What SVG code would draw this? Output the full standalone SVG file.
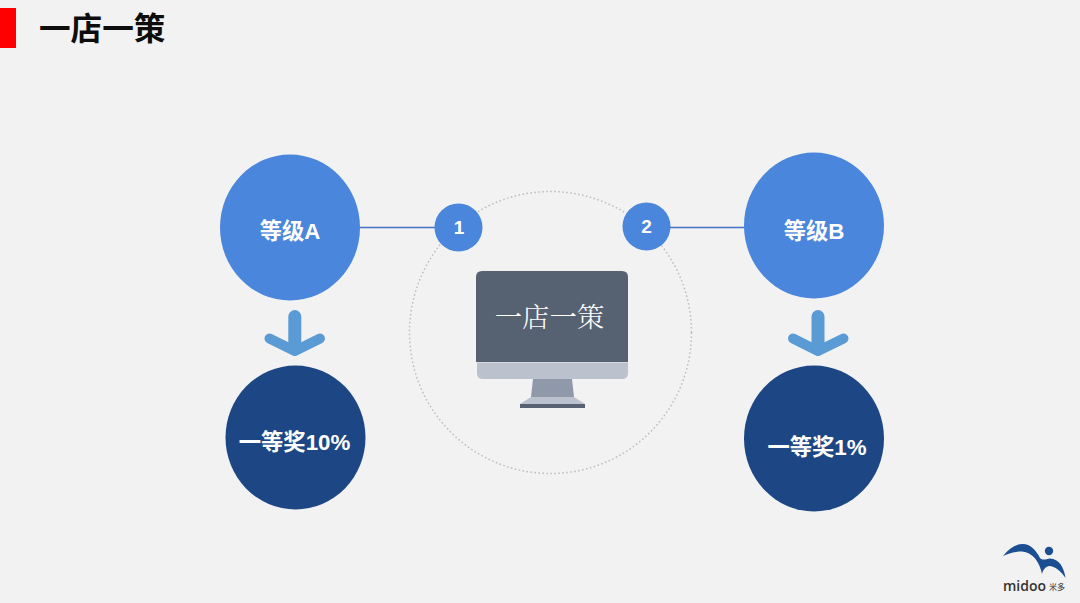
<svg xmlns="http://www.w3.org/2000/svg" width="1080" height="603" viewBox="0 0 1080 603">
<style>
.w{font-family:"Liberation Sans","Noto Sans CJK SC",sans-serif;font-weight:700;fill:#fff;text-anchor:middle}
.blue{fill:#4a86db}.navy{fill:#1c4784}
.arr{fill:none;stroke:#5b9bd5;stroke-linecap:round;stroke-linejoin:round}
</style>
<rect width="1080" height="603" fill="#f2f2f2"/>
<rect id="title-bar" x="0" y="8" width="16" height="40" fill="#ff0000"/>
<text id="title" x="39" y="39.500" font-size="31.600" font-weight="700" fill="#0d0d0d" font-family="'Liberation Sans','Noto Sans CJK SC',sans-serif">一店一策</text>
<g id="connectors">
<line x1="358" y1="227.500" x2="436" y2="227.500" stroke="#4472c4" stroke-width="1.600"/>
<line x1="669" y1="227.500" x2="746" y2="227.500" stroke="#4472c4" stroke-width="1.600"/>
<path class="arr" d="M294.800 316.500V345" stroke-width="13"/>
<path class="arr" d="M269.500 338.500L294.800 351L320 338.500" stroke-width="10"/>
<path class="arr" d="M818 316.500V345" stroke-width="13"/>
<path class="arr" d="M793 338.500L818 351L843.500 338.500" stroke-width="10"/>
</g>
<circle id="ring" cx="550.500" cy="332.500" r="141" fill="none" stroke="#bcbcbc" stroke-width="1.500" stroke-dasharray="1.500 2.500"/>
<g id="monitor">
<path d="M476 362V277Q476 271 482 271H622Q628 271 628 277V362Z" fill="#566172"/>
<path d="M477 362.500H628V373Q628 379 622 379H483Q477 379 477 373Z" fill="#bbc2cd"/>
<path d="M533 379H572L574 397H531Z" fill="#8f99a9"/>
<path d="M531 397H574L585 404H520Z" fill="#bbc2cd"/>
<rect x="520" y="404" width="65" height="4" fill="#566172"/>
<text x="549.500" y="327" font-size="27.400" fill="#fff" text-anchor="middle" font-family="'Noto Serif CJK SC','Liberation Serif','Noto Sans CJK SC',serif" font-weight="300">一店一策</text>
</g>
<g id="badge-1"><circle class="blue" cx="458.500" cy="227.500" r="24"/><text class="w" x="459" y="234" font-size="19">1</text></g>
<g id="badge-2"><circle class="blue" cx="646.500" cy="226.500" r="24"/><text class="w" x="646.500" y="233" font-size="19">2</text></g>
<g id="grade-a"><ellipse class="blue" cx="290" cy="227.500" rx="70" ry="73"/><text class="w" x="290" y="239" font-size="22.300">等级A</text></g>
<g id="grade-b"><ellipse class="blue" cx="814" cy="225.500" rx="70" ry="73"/><text class="w" x="814" y="239" font-size="22.300">等级B</text></g>
<g id="prize-a"><ellipse class="navy" cx="295.500" cy="437.500" rx="70" ry="72"/><text class="w" x="294.500" y="450" font-size="22.300">一等奖10%</text></g>
<g id="prize-b"><ellipse class="navy" cx="814" cy="438.500" rx="70" ry="73"/><text class="w" x="817" y="455" font-size="22.300">一等奖1%</text></g>
<g id="logo">
<path d="M1003 556C1009 548 1016 544 1023 544C1030 544 1036 550 1040 558C1043 561 1046 559 1050 558.500C1059 559 1064 567 1065.500 578C1061 571 1055 566 1049 566C1045 567 1043 570 1042 574C1040 563 1033 552 1022 551.500C1015 551.500 1009 553 1003 556Z" fill="#1c4f92"/>
<circle cx="1049" cy="551" r="4.200" fill="#1c4f92"/>
<text x="1003" y="591" font-size="14.500" font-weight="600" fill="#333" font-family="'Open Sans','Liberation Sans',sans-serif" textLength="43" lengthAdjust="spacingAndGlyphs">midoo</text>
<text x="1049" y="590" font-size="8" fill="#333" font-family="'Noto Sans CJK SC',sans-serif">米多</text>
</g>
</svg>
